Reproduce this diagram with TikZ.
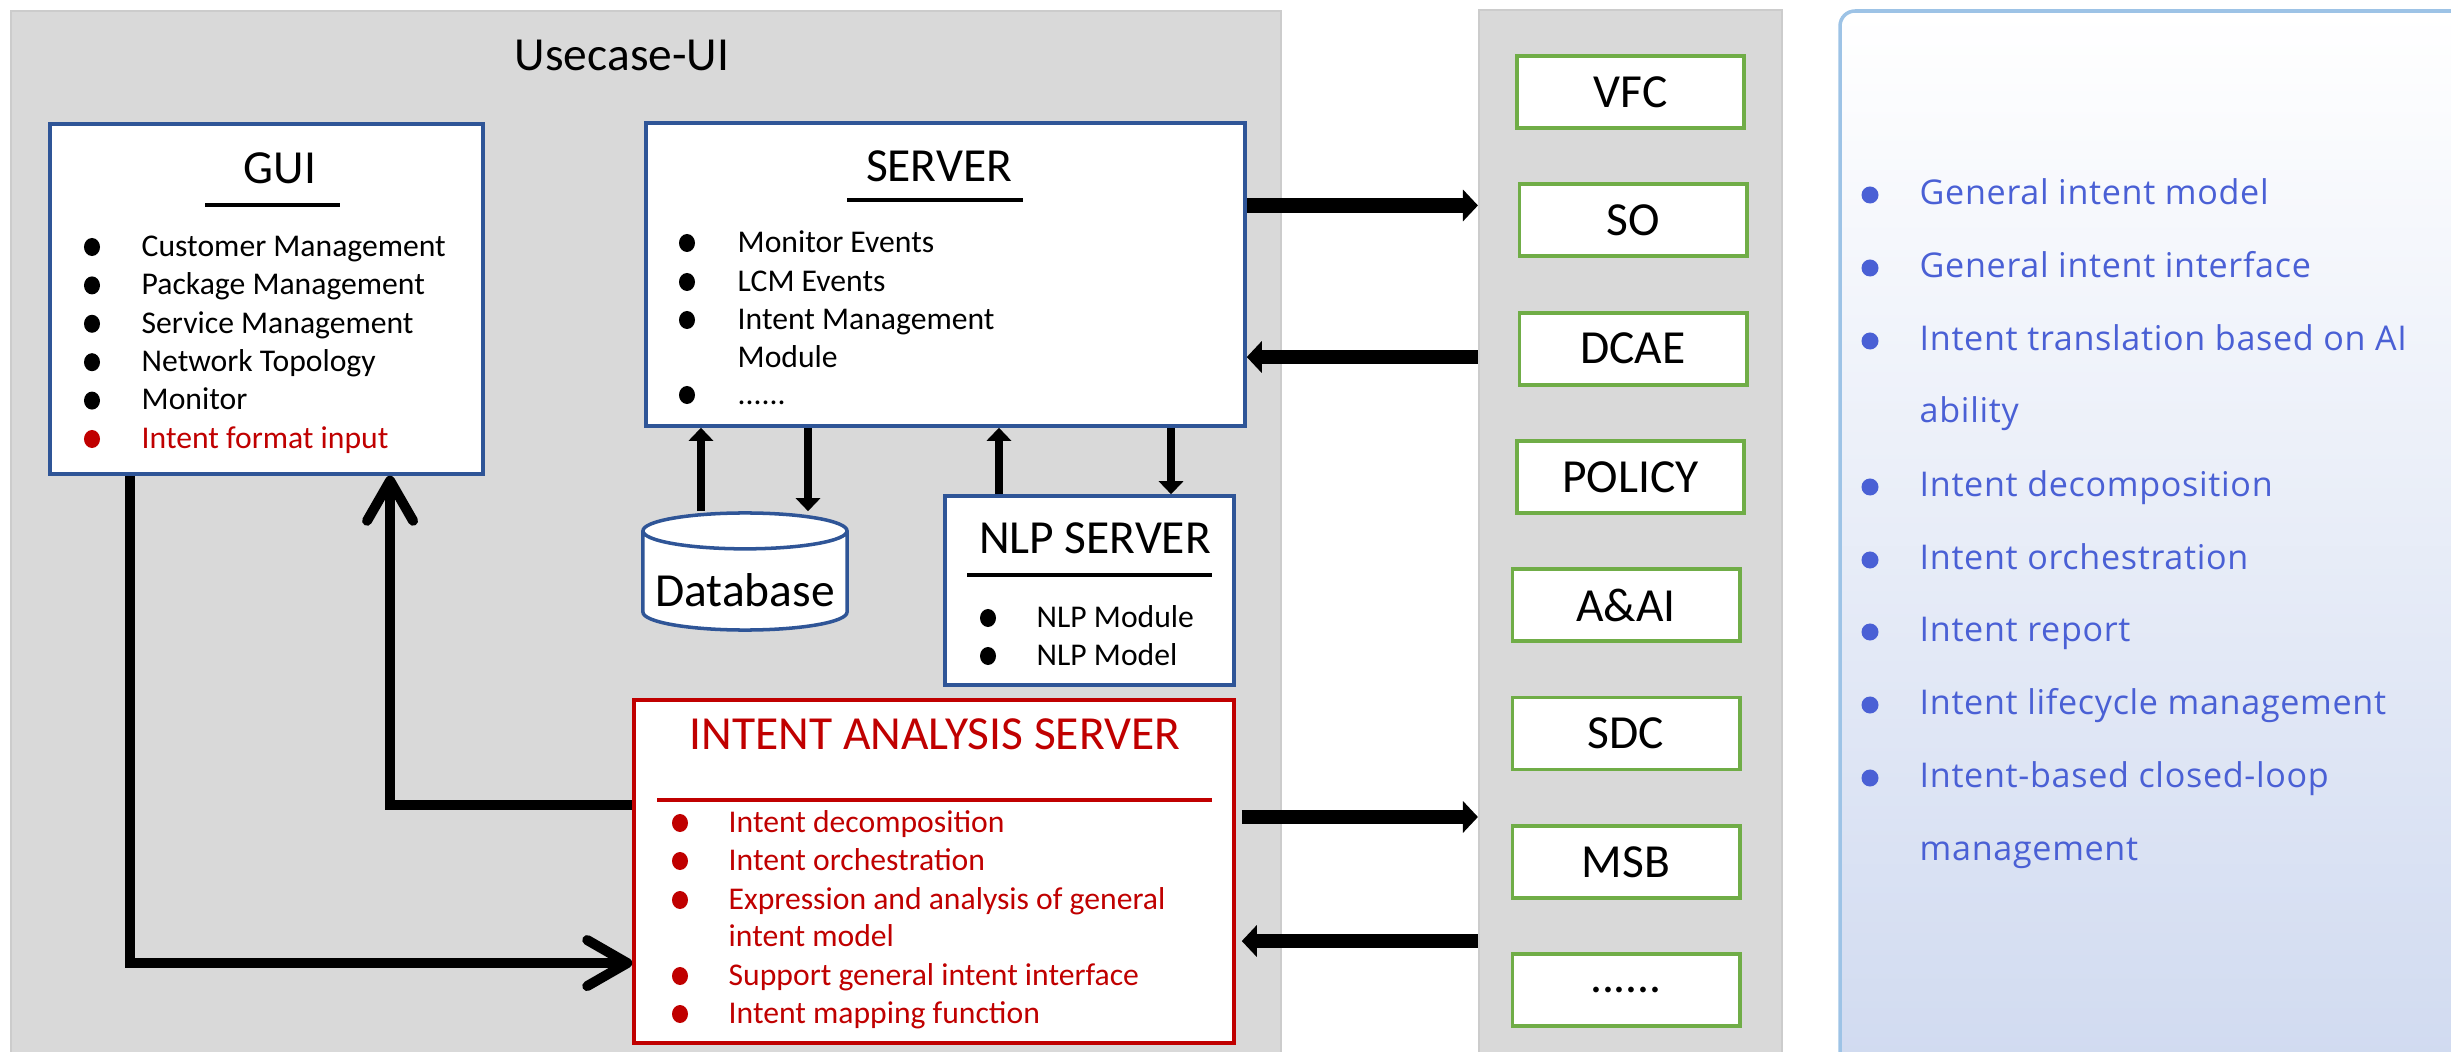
\documentclass[tikz,border=0pt]{standalone}
\usepackage{fontspec}
\setmainfont{Carlito}
\newfontfamily\panelfont{Open Sans}[LetterSpace=2]
\usetikzlibrary{arrows.meta}
\usetikzlibrary{shapes.geometric}
\usetikzlibrary{fit}

\definecolor{panelgray}{HTML}{D9D9D9}
\definecolor{boxblue}{HTML}{2F5597}
\definecolor{boxgreen}{HTML}{70AD47}
\definecolor{intentred}{HTML}{C00000}
\definecolor{listblue}{HTML}{4A60D5}
\definecolor{frameblue}{HTML}{9DC3E6}
\definecolor{fadeblue}{HTML}{D0DAF0}

\newcommand\etcdots{......}

\tikzset{
  panel/.style={fill=panelgray, draw=black!20, line width=0.6pt, inner sep=0pt},
  bluebox/.style={draw=boxblue, fill=white, line width=1pt, inner sep=0pt},
  redbox/.style={draw=intentred, fill=white, line width=1pt, inner sep=0pt},
  greenbox/.style={draw=boxgreen, fill=white, line width=1.1pt, minimum width=2.27cm,
    minimum height=0.72cm, inner sep=0pt, font=\fontsize{13.5}{16}\selectfont},
  title/.style={inner sep=0pt, font=\fontsize{13.5}{16}\selectfont},
  rule/.style={line width=1pt},
  item/.style={anchor=west, inner sep=0pt, text height=1.55ex, text depth=0.45ex,
    font=\fontsize{9}{11}\selectfont},
  feature/.style={anchor=west, inner sep=0pt, text height=1.55ex, text depth=0.45ex,
    text=listblue, font=\panelfont\fontsize{9.7}{12}\selectfont},
  bulletdot/.style={x radius=0.08cm, y radius=0.09cm},
  featuredot/.style={radius=0.085cm},
  linkarrow/.style={line width=0.08cm, -{Triangle[length=0.13cm, width=0.24cm]}},
  busarrow/.style={line width=0.145cm, -{Triangle[length=0.15cm, width=0.31cm]}},
  looparrow/.style={line width=0.1cm, -{Straight Barb[length=0.4cm, width=0.46cm, round]}}
}

\begin{document}
\begin{tikzpicture}[x=0.01cm, y=-0.01cm]
\useasboundingbox (0,0) rectangle (2451,1052);
\clip (0,0) rectangle (2451,1052);

% background panels
\node[panel, fit={(11,11) (1281,1070)}] (uui) {};
\node[title] (uuititle) at (622,55) {Usecase-UI};
\node[panel, fit={(1479,10) (1782,1070)}] (onap) {};
\node[fit={(1840,11) (2490,1080)}, draw=frameblue, line width=1pt, rounded corners=0.15cm,
      top color=white, bottom color=fadeblue, inner sep=0pt] (features) {};

% GUI
\node[bluebox, fit={(50,124) (483,474)}] (gui) {};
\node[title] (guititle) at (280,168) {GUI};
\draw[rule] (205,205) -- (340,205);
\foreach \txt [count=\i from 0] in {Customer Management, Package Management,
    Service Management, Network Topology, Monitor}{
  \fill (92,247+38.4*\i) circle[bulletdot];
  \node[item] (gui\i) at (141,247+38.4*\i) {\txt};
}
\fill[intentred] (92,439) circle[bulletdot];
\node[item, text=intentred] (gui5) at (141,439) {Intent format input};

% SERVER
\node[bluebox, fit={(646,123) (1245,426)}] (server) {};
\node[title] (servertitle) at (939,166) {SERVER};
\draw[rule] (847,200) -- (1023,200);
\foreach \txt/\yy in {Monitor Events/243, LCM Events/282, Intent Management/320, \etcdots/395}{
  \fill (687,\yy) circle[bulletdot];
  \node[item] at (737,\yy) {\txt};
}
\node[item] (servermod) at (737,358) {Module};

% Database
\node[cylinder, shape border rotate=90, aspect=0.2, draw=boxblue, fill=white, line width=1pt,
      minimum width=2.04cm, minimum height=1.17cm, inner sep=0pt, title,
      text height=0.5cm, text depth=0pt, anchor=shape center] (db) at (745,571.5) {Database};

% NLP SERVER
\node[bluebox, fit={(945,496) (1234,685)}] (nlp) {};
\node[title] (nlptitle) at (1095,538) {NLP SERVER};
\draw[rule] (967,575) -- (1212,575);
\foreach \txt/\yy in {NLP Module/618, NLP Model/656}{
  \fill (988,\yy) circle[bulletdot];
  \node[item] at (1036,\yy) {\txt};
}

% INTENT ANALYSIS SERVER
\node[redbox, fit={(634,700) (1234,1043)}] (ias) {};
\node[title, text=intentred] (iastitle) at (935,734) {INTENT ANALYSIS SERVER};
\draw[rule, intentred] (657,800) -- (1212,800);
\foreach \txt/\yy in {Intent decomposition/823, Intent orchestration/861,
    Expression and analysis of general/900, Support general intent interface/976,
    Intent mapping function/1014}{
  \fill[intentred] (680,\yy) circle[bulletdot];
  \node[item, text=intentred] at (728,\yy) {\txt};
}
\node[item, text=intentred] (iasmodel) at (728,937) {intent model};

% ONAP components
\foreach \name/\lbl/\cx [count=\i from 0] in {vfc/VFC/1630.5, so/SO/1633, dcae/DCAE/1633,
    policy/POLICY/1630.5, aai/A\&AI/1626, sdc/SDC/1626, msb/MSB/1626, more/\etcdots/1626}
  \node[greenbox] (\name) at (\cx,92+128.3*\i) {\lbl};

% feature list
\foreach \txt/\yy in {General intent model/195, General intent interface/268,
    Intent translation based on AI/341, Intent decomposition/487, Intent orchestration/560,
    Intent report/632, Intent lifecycle management/705, Intent-based closed-loop/778}{
  \fill[listblue] (1870,\yy) circle[featuredot];
  \node[feature] at (1919,\yy) {\txt};
}
\node[feature] (featability) at (1919,413) {ability};
\node[feature] (featmgmt) at (1919,851) {management};

% links
\coordinate (dbup) at ([xshift=-0.44cm]db.north);
\coordinate (dbdown) at ([xshift=0.63cm]db.north);
\draw[linkarrow] (dbup) -- (dbup |- server.south);
\draw[linkarrow] (dbdown |- server.south) -- (dbdown);
\coordinate (nlpup) at ([xshift=-0.905cm]nlp.north);
\coordinate (nlpdown) at ([xshift=0.815cm]nlp.north);
\draw[linkarrow] (nlpup) -- (nlpup |- server.south);
\draw[linkarrow] (nlpdown |- server.south) -- (nlpdown);

\coordinate (toso) at ([yshift=0.69cm]server.east);
\coordinate (fromdcae) at ([yshift=-0.825cm]server.east);
\draw[busarrow] (toso) -- (toso -| onap.west);
\draw[busarrow] (fromdcae -| onap.west) -- (fromdcae);
\coordinate (tomsb) at ([yshift=0.545cm]ias.east);
\coordinate (frommsb) at ([yshift=-0.695cm]ias.east);
\draw[busarrow, shorten <=0.06cm] (tomsb) -- (tomsb -| onap.west);
\draw[busarrow, shorten >=0.06cm] (frommsb -| onap.west) -- (frommsb);

\coordinate (guiout) at ([xshift=-1.365cm]gui.south);
\coordinate (iasin) at ([yshift=-0.915cm]ias.west);
\draw[looparrow] (guiout) |- (iasin);
\coordinate (iasout) at ([yshift=0.665cm]ias.west);
\coordinate (guiin) at ([xshift=1.235cm]gui.south);
\draw[looparrow] (iasout) -| (guiin);
\end{tikzpicture}
\end{document}
